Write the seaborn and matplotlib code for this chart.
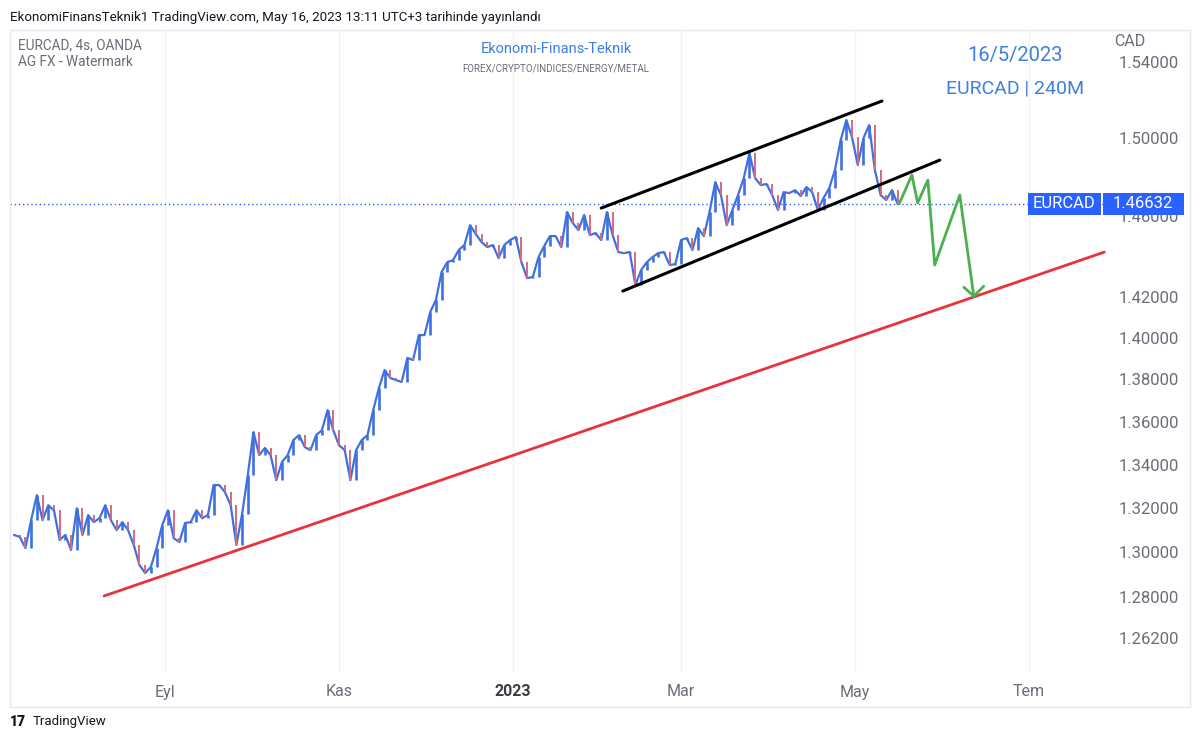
# EURCAD 4s chart with channel and projection, redrawn from the TradingView snapshot

import numpy as np
import pandas as pd
import seaborn as sns
import matplotlib.pyplot as plt
import matplotlib.dates as mdates
from matplotlib.patches import Rectangle

sns.set_theme(style="white")
plt.rcParams['font.family'] = ['Roboto', 'DejaVu Sans']

# Price path, one value every two days
dates = pd.date_range("2022-07-10", periods=156, freq="2D")
closes = [
    1.3078, 1.3069, 1.3019, 1.3145, 1.3259, 1.3145, 1.3213, 1.3190, 1.3055, 1.3078,
    1.3010, 1.3199, 1.3078, 1.3168, 1.3136, 1.3154, 1.3213, 1.3145, 1.3100, 1.3136,
    1.3100, 1.3033, 1.2943, 1.2907, 1.2934, 1.3019, 1.3123, 1.3190, 1.3064, 1.3046,
    1.3132, 1.3136, 1.3190, 1.3154, 1.3168, 1.3305, 1.3305, 1.3273, 1.3213, 1.3033,
    1.3172, 1.3351, 1.3551, 1.3444, 1.3477, 1.3444, 1.3328, 1.3412, 1.3444, 1.3514,
    1.3537, 1.3481, 1.3467, 1.3537, 1.3560, 1.3654, 1.3560, 1.3490, 1.3467, 1.3328,
    1.3467, 1.3514, 1.3537, 1.3654, 1.3759, 1.3845, 1.3807, 1.3797, 1.3788, 1.3903,
    1.3893, 1.4013, 1.4013, 1.4125, 1.4184, 1.4322, 1.4371, 1.4381, 1.4431, 1.4456,
    1.4556, 1.4511, 1.4471, 1.4446, 1.4456, 1.4391, 1.4456, 1.4481, 1.4496, 1.4371,
    1.4292, 1.4297, 1.4396, 1.4451, 1.4501, 1.4501, 1.4446, 1.4622, 1.4567, 1.4531,
    1.4607, 1.4506, 1.4516, 1.4481, 1.4622, 1.4506, 1.4421, 1.4416, 1.4421, 1.4258,
    1.4332, 1.4371, 1.4396, 1.4416, 1.4421, 1.4357, 1.4361, 1.4481, 1.4491, 1.4431,
    1.4541, 1.4501, 1.4622, 1.4774, 1.4708, 1.4556, 1.4632, 1.4708, 1.4794, 1.4924,
    1.4794, 1.4759, 1.4764, 1.4708, 1.4632, 1.4723, 1.4718, 1.4733, 1.4703, 1.4749,
    1.4723, 1.4632, 1.4693, 1.4743, 1.4836, 1.4990, 1.5094, 1.5005, 1.4862, 1.5000,
    1.5068, 1.4836, 1.4708, 1.4683, 1.4733, 1.4663,
]
last_price = 1.46632

# Drawn lines
support_dates = pd.to_datetime(["2022-08-10 14:00", "2023-07-27 12:00"])
support_prices = [1.2805, 1.4421]
upper_dates = pd.to_datetime(["2023-02-01 00:00", "2023-05-10 12:00"])
upper_prices = [1.4642, 1.5194]
lower_dates = pd.to_datetime(["2023-02-08 14:00", "2023-05-30 19:00"])
lower_prices = [1.4228, 1.4887]
proj_dates = pd.to_datetime(["2023-05-16 12:00", "2023-05-21 00:00", "2023-05-23 00:00",
                             "2023-05-26 14:00", "2023-05-29 00:00", "2023-06-06 19:00",
                             "2023-06-11 17:00"])
proj_prices = [1.4663, 1.4810, 1.4668, 1.4784, 1.4357, 1.4708, 1.4203]
arrow_dates = pd.to_datetime(["2023-06-08 05:00", "2023-06-11 17:00", "2023-06-15 05:00"])
arrow_prices = [1.4247, 1.4203, 1.4252]

price_ticks = [1.54, 1.50, 1.46, 1.42, 1.40, 1.38, 1.36, 1.34, 1.32, 1.30, 1.28, 1.262]
month_ticks = pd.to_datetime(["2022-09-01", "2022-11-01", "2023-01-01",
                              "2023-03-01", "2023-05-01", "2023-07-01"])
month_labels = ["Eyl", "Kas", "2023", "Mar", "May", "Tem"]

blue = "#3f70e2"
red = "#d46a82"
grey = "#6a6d78"

W, H = 1200, 741
fig = plt.figure(figsize=(12, 7.41), dpi=100)
fig.patch.set_facecolor("white")
ax = fig.add_axes([10 / W, 1 - 672 / H, 1098 / W, (672 - 31) / H])
ax.set_facecolor("white")

# faint vertical grid at labelled months
for d in month_ticks:
    ax.axvline(d, color="#f3f3f5", lw=1, zorder=0)

# candles: open is the previous close
xs = mdates.date2num(dates)
ys = np.array(closes)
opens = np.r_[ys[0], ys[:-1]]
up = ys >= opens
ax.plot(xs, ys, color=blue, lw=1.6, zorder=2)
ax.vlines(xs[~up], opens[~up], ys[~up], color=red, lw=1.4, zorder=3)
ax.vlines(xs[up], opens[up], ys[up], color=blue, lw=1.9, zorder=3)

# trend lines
sns.lineplot(x=support_dates, y=support_prices, ax=ax, color="#e8323c", lw=2, zorder=4)
sns.lineplot(x=upper_dates, y=upper_prices, ax=ax, color="black", lw=2.2, zorder=4)
sns.lineplot(x=lower_dates, y=lower_prices, ax=ax, color="black", lw=2.2, zorder=4)
sns.lineplot(x=proj_dates, y=proj_prices, ax=ax, color="#4caf50", lw=2, zorder=4, sort=False)
sns.lineplot(x=arrow_dates, y=arrow_prices, ax=ax, color="#4caf50", lw=2, zorder=4, sort=False)

ax.axhline(last_price, color="#2962ff", ls=(0, (1, 2)), lw=1, zorder=1)

ax.set_yscale("log")
ax.set_ylim(1.2473, 1.5566)
ax.set_xlim(pd.Timestamp("2022-07-08 14:00"), pd.Timestamp("2023-07-28 19:00"))
ax.yaxis.set_minor_locator(plt.NullLocator())
ax.set_yticks(price_ticks)
ax.set_yticklabels([f"{p:.5f}" for p in price_ticks])
ax.yaxis.tick_right()
ax.tick_params(axis="y", length=0, pad=8, labelsize=12, labelcolor=grey)
ax.set_xticks(month_ticks)
ax.set_xticklabels(month_labels)
ax.tick_params(axis="x", length=0, pad=9, labelsize=11.5, labelcolor=grey)
ax.get_xticklabels()[2].set_fontweight("bold")
ax.get_xticklabels()[2].set_color("#3a3d46")
ax.set_xlabel("")
ax.set_ylabel("")
for s in ax.spines.values():
    s.set_visible(False)

# pane border
fig.patches.append(Rectangle((10 / W, 1 - 707 / H), 1180 / W, 677 / H, transform=fig.transFigure,
                             fill=False, ec="#e6e8ee", lw=1))

# texts
fig.text(10 / W, 1 - 17 / H, "EkonomiFinansTeknik1 TradingView.com, May 16, 2023 13:11 UTC+3 tarihinde yayınlandı",
         fontsize=9.6, color="#131722", va="center")
fig.text(18 / W, 1 - 45 / H, "EURCAD, 4s, OANDA", fontsize=9.8, color=grey, va="center")
fig.text(18 / W, 1 - 62 / H, "AG FX - Watermark", fontsize=9.8, color=grey, va="center")
fig.text(556 / W, 1 - 49 / H, "Ekonomi-Finans-Teknik", fontsize=10.5, color="#3f7fe0", ha="center", va="center")
fig.text(556 / W, 1 - 69 / H, "FOREX/CRYPTO/INDICES/ENERGY/METAL", fontsize=7, color=grey, ha="center", va="center")
fig.text(1015 / W, 1 - 55 / H, "16/5/2023", fontsize=14.5, color="#3f7fe0", ha="center", va="center")
fig.text(1015 / W, 1 - 88 / H, "EURCAD | 240M", fontsize=14, color="#3f7fe0", ha="center", va="center")
fig.text(1130 / W, 1 - 42 / H, "CAD", fontsize=11.5, color=grey, ha="center", va="center")

# last price tag
fig.patches.append(Rectangle((1028 / W, 1 - 215 / H), 73 / W, 22 / H, transform=fig.transFigure,
                             fc="#2962ff", ec="none", zorder=5))
fig.patches.append(Rectangle((1103 / W, 1 - 215 / H), 81 / W, 22 / H, transform=fig.transFigure,
                             fc="#2962ff", ec="none", zorder=5))
fig.text(1064 / W, 1 - 204 / H, "EURCAD", fontsize=12, color="white", ha="center", va="center", zorder=6)
fig.text(1143 / W, 1 - 204 / H, f"{last_price:.5f}", fontsize=12, color="white", ha="center", va="center", zorder=6)

# footer logo
fig.text(10 / W, 1 - 722 / H, "17", fontsize=10, color="#131722", fontweight="heavy", va="center")
fig.text(33 / W, 1 - 722 / H, "TradingView", fontsize=9.5, color="#131722", va="center")

fig.savefig("out.png", dpi=100)
